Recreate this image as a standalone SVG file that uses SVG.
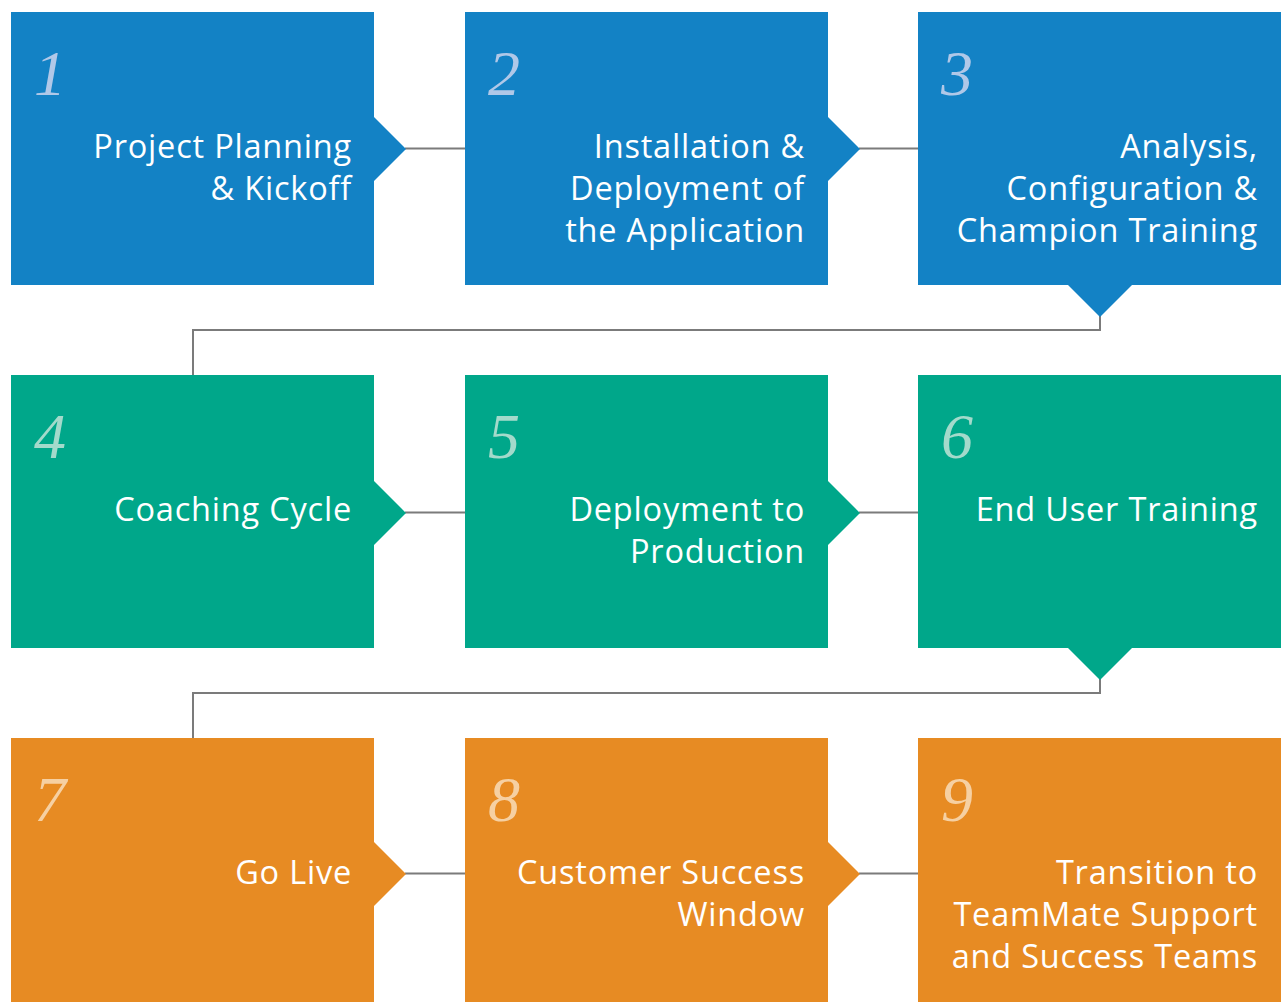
<svg xmlns="http://www.w3.org/2000/svg" width="1281" height="1002" viewBox="0 0 1281 1002">
<style>
.blue{fill:#1382C5}
.teal{fill:#00A78A}
.orange{fill:#E78B23}
.num{font-family:"Liberation Serif",serif;font-style:italic;font-size:64px}
.nb{fill:#B0C8E8}
.nt{fill:#A3DACB}
.no{fill:#F6D0A2}
.lbl{font-family:"Open Sans","Noto Sans",sans-serif;font-size:32.5px;letter-spacing:0.8px;fill:#ffffff;text-anchor:end}
.conn{fill:none;stroke:#7b7b7b;stroke-width:2}
</style>
<rect width="1281" height="1002" fill="#ffffff"/>
<g id="connectors">
<line class="conn" x1="405" y1="148.5" x2="465" y2="148.5"/>
<line class="conn" x1="859" y1="148.5" x2="918" y2="148.5"/>
<polyline class="conn" points="1100,314 1100,330 193,330 193,375"/>
<line class="conn" x1="405" y1="512.5" x2="465" y2="512.5"/>
<line class="conn" x1="859" y1="512.5" x2="918" y2="512.5"/>
<polyline class="conn" points="1100,677 1100,693 193,693 193,738"/>
<line class="conn" x1="405" y1="873.5" x2="465" y2="873.5"/>
<line class="conn" x1="859" y1="873.5" x2="918" y2="873.5"/>
</g>
<g id="node1">
<path class="blue" d="M11,12H374V117L406,149L374,181V285H11Z"/>
<text class="num nb" x="34" y="95">1</text>
<text class="lbl"><tspan x="352" y="158">Project Planning</tspan><tspan x="352" y="200">&amp; Kickoff</tspan></text>
</g>
<g id="node2">
<path class="blue" d="M465,12H828V117L860,149L828,181V285H465Z"/>
<text class="num nb" x="488" y="95">2</text>
<text class="lbl"><tspan x="805" y="158">Installation &amp;</tspan><tspan x="805" y="200">Deployment of</tspan><tspan x="805" y="242">the Application</tspan></text>
</g>
<g id="node3">
<path class="blue" d="M918,12H1281V285H1132L1100,317L1068,285H918Z"/>
<text class="num nb" x="941" y="95">3</text>
<text class="lbl"><tspan x="1258" y="158">Analysis,</tspan><tspan x="1258" y="200">Configuration &amp;</tspan><tspan x="1258" y="242">Champion Training</tspan></text>
</g>
<g id="node4">
<path class="teal" d="M11,375H374V481L406,513L374,545V648H11Z"/>
<text class="num nt" x="34" y="458">4</text>
<text class="lbl"><tspan x="352" y="521">Coaching Cycle</tspan></text>
</g>
<g id="node5">
<path class="teal" d="M465,375H828V481L860,513L828,545V648H465Z"/>
<text class="num nt" x="488" y="458">5</text>
<text class="lbl"><tspan x="805" y="521">Deployment to</tspan><tspan x="805" y="563">Production</tspan></text>
</g>
<g id="node6">
<path class="teal" d="M918,375H1281V648H1132L1100,680L1068,648H918Z"/>
<text class="num nt" x="941" y="458">6</text>
<text class="lbl"><tspan x="1258" y="521">End User Training</tspan></text>
</g>
<g id="node7">
<path class="orange" d="M11,738H374V842L406,874L374,906V1002H11Z"/>
<text class="num no" x="34" y="821">7</text>
<text class="lbl"><tspan x="352" y="884">Go Live</tspan></text>
</g>
<g id="node8">
<path class="orange" d="M465,738H828V842L860,874L828,906V1002H465Z"/>
<text class="num no" x="488" y="821">8</text>
<text class="lbl"><tspan x="805" y="884">Customer Success</tspan><tspan x="805" y="926">Window</tspan></text>
</g>
<g id="node9">
<path class="orange" d="M918,738H1281V1002H918Z"/>
<text class="num no" x="941" y="821">9</text>
<text class="lbl"><tspan x="1258" y="884">Transition to</tspan><tspan x="1258" y="926">TeamMate Support</tspan><tspan x="1258" y="968">and Success Teams</tspan></text>
</g>
</svg>
